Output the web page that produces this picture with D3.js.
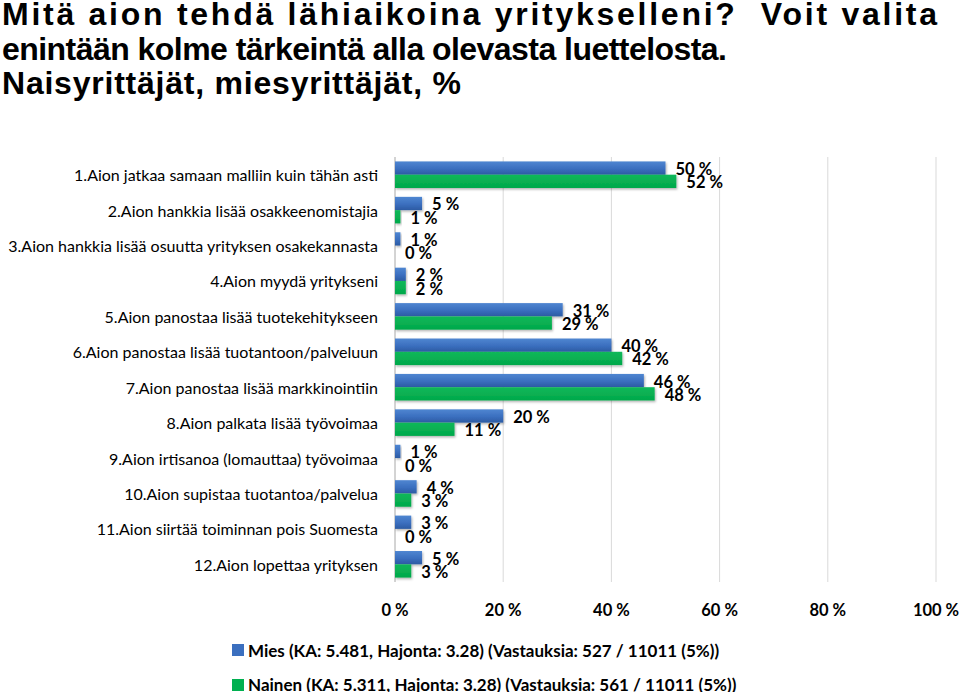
<!DOCTYPE html>
<html>
<head>
<meta charset="utf-8">
<script src="https://cdn.jsdelivr.net/npm/d3@7"></script>
<style>
  html, body { margin: 0; padding: 0; background: #fff; }
  svg { display: block; }
</style>
</head>
<body>
<svg id="chart" width="959" height="692"></svg>
<script>
const titleLines = [
  "Mitä aion tehdä lähiaikoina yritykselleni?  Voit valita",
  "enintään kolme tärkeintä alla olevasta luettelosta.",
  "Naisyrittäjät, miesyrittäjät, %"
];
const categories = [
  "1.Aion jatkaa samaan malliin kuin tähän asti",
  "2.Aion hankkia lisää osakkeenomistajia",
  "3.Aion hankkia lisää osuutta yrityksen osakekannasta",
  "4.Aion myydä yritykseni",
  "5.Aion panostaa lisää tuotekehitykseen",
  "6.Aion panostaa lisää tuotantoon/palveluun",
  "7.Aion panostaa lisää markkinointiin",
  "8.Aion palkata lisää työvoimaa",
  "9.Aion irtisanoa (lomauttaa) työvoimaa",
  "10.Aion supistaa tuotantoa/palvelua",
  "11.Aion siirtää toiminnan pois Suomesta",
  "12.Aion lopettaa yrityksen"
];
const seriesNames = ["Mies", "Nainen"];
const miesValues = [50, 5, 1, 2, 31, 40, 46, 20, 1, 4, 3, 5];
const nainenValues = [52, 1, 0, 2, 29, 42, 48, 11, 0, 3, 0, 3];
const legendLabels = [
  "Mies (KA: 5.481, Hajonta: 3.28) (Vastauksia: 527 / 11011 (5%))",
  "Nainen (KA: 5.311, Hajonta: 3.28) (Vastauksia: 561 / 11011 (5%))"
];
const xTicks = [0, 20, 40, 60, 80, 100];

const svg = d3.select("#chart");
const labelFont = "Lato, 'Open Sans', sans-serif";

// gradients
const defs = svg.append("defs");
const gBlue = defs.append("linearGradient").attr("id", "gBlue").attr("x1", 0).attr("y1", 0).attr("x2", 0).attr("y2", 1);
gBlue.append("stop").attr("offset", "0%").attr("stop-color", "#4f86d1");
gBlue.append("stop").attr("offset", "55%").attr("stop-color", "#3b6fbf");
gBlue.append("stop").attr("offset", "100%").attr("stop-color", "#2c5ba3");
const gGreen = defs.append("linearGradient").attr("id", "gGreen").attr("x1", 0).attr("y1", 0).attr("x2", 0).attr("y2", 1);
gGreen.append("stop").attr("offset", "0%").attr("stop-color", "#12b85a");
gGreen.append("stop").attr("offset", "100%").attr("stop-color", "#00a84a");
const shadow = defs.append("filter").attr("id", "shadow").attr("x", "-10%").attr("y", "-20%").attr("width", "130%").attr("height", "160%");
shadow.append("feDropShadow").attr("dx", 1).attr("dy", 1.5).attr("stdDeviation", 1).attr("flood-color", "#000").attr("flood-opacity", 0.3);

// title
const title = svg.append("g");
const titleWidths = [935, 725, 459];
titleLines.forEach((t, i) => {
  title.append("text")
    .attr("x", 2).attr("y", 25 + i * 34.5)
    .attr("font-family", "'Liberation Sans', Arial, sans-serif")
    .attr("font-weight", "bold").attr("font-size", 32)
    .attr("fill", "#000")
    .style("white-space", "pre")
    .attr("textLength", titleWidths[i]).attr("lengthAdjust", "spacing")
    .text(t);
});

// scales
const x = d3.scaleLinear().domain([0, 100]).range([395, 936]);
const y = d3.scaleBand().domain(categories).range([157, 582]).paddingInner(0.25).paddingOuter(0.125);
const ySub = d3.scaleBand().domain(seriesNames).range([0, y.bandwidth()]);

// gridlines
svg.append("g").selectAll("line").data(xTicks).join("line")
  .attr("x1", d => x(d)).attr("x2", d => x(d))
  .attr("y1", 157).attr("y2", 582)
  .attr("stroke", d => d === 0 ? "#a8a8a8" : "#d9d9d9").attr("stroke-width", 1);

// tick labels
svg.append("g").selectAll("text").data(xTicks).join("text")
  .attr("x", d => x(d)).attr("y", 610)
  .attr("text-anchor", "middle").attr("dominant-baseline", "central")
  .attr("font-family", labelFont).attr("font-weight", "bold").attr("font-size", 16.5)
  .text(d => d + " %");

// category labels
svg.append("g").selectAll("text").data(categories).join("text")
  .attr("x", 378).attr("y", d => y(d) + y.bandwidth() / 2)
  .attr("text-anchor", "end").attr("dominant-baseline", "central")
  .attr("font-family", labelFont).attr("font-size", 16).attr("fill", "#000")
  .text(d => d);

// bars
const rows = [];
categories.forEach((c, i) => {
  rows.push({ c, s: "Mies", v: miesValues[i], fill: "url(#gBlue)" });
  rows.push({ c, s: "Nainen", v: nainenValues[i], fill: "url(#gGreen)" });
});
svg.append("g").selectAll("rect").data(rows.filter(r => r.v > 0)).join("rect")
  .attr("x", x(0))
  .attr("y", d => y(d.c) + ySub(d.s))
  .attr("width", d => x(d.v) - x(0))
  .attr("height", ySub.bandwidth())
  .attr("fill", d => d.fill)
  .attr("filter", "url(#shadow)");

// value labels
svg.append("g").selectAll("text").data(rows).join("text")
  .attr("x", d => x(d.v) + 10)
  .attr("y", d => y(d.c) + ySub(d.s) + ySub.bandwidth() / 2 + 1)
  .attr("dominant-baseline", "central")
  .attr("font-family", labelFont).attr("font-weight", "bold").attr("font-size", 16.5)
  .attr("fill", "#000")
  .text(d => d.v + " %");

// legend
const legendColors = ["#3b6fbf", "#00b050"];
const lg = svg.append("g");
legendLabels.forEach((t, i) => {
  lg.append("rect").attr("x", 232).attr("y", 644 + i * 35).attr("width", 12).attr("height", 12)
    .attr("fill", legendColors[i]);
  lg.append("text").attr("x", 248).attr("y", 650 + i * 34.5)
    .attr("dominant-baseline", "central")
    .attr("font-family", labelFont).attr("font-weight", "bold").attr("font-size", 17)
    .text(t);
});
</script>
</body>
</html>
